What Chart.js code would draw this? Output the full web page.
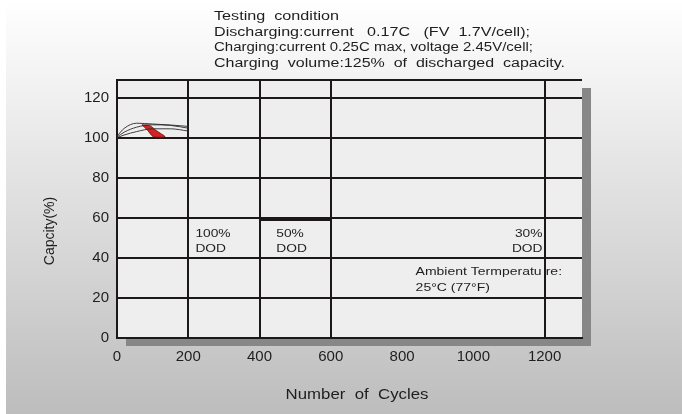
<!DOCTYPE html>
<html>
<head>
<meta charset="utf-8">
<script src="https://cdn.jsdelivr.net/npm/chart.js@4.4.1/dist/chart.umd.min.js"></script>
<style>
  html, body { margin: 0; padding: 0; background: #fff; }
</style>
</head>
<body>
<canvas id="cycleChart" width="682" height="414"></canvas>
<script>
// axis ticks
const xTicks = [0, 200, 400, 600, 800, 1000, 1200];
const xGridLines = [0, 200, 400, 600, 1200];
const yTicks = [0, 20, 40, 60, 80, 100, 120];
const xMax = 1305;
const yMax = 129;

// capacity curves over the first 200 cycles
const curveX = [0, 20, 55, 100, 150, 200];
const curveA = [100.9, 104.8, 107.4, 107.0, 106.5, 105.8];
const curveB = [100.5, 102.9, 105.4, 106.6, 106.3, 104.9];
const curveC = [100.2, 101.5, 103.2, 104.6, 104.6, 103.5];

// red band (closed outline)
const bandX = [70, 91, 112, 135, 102, 86, 70];
const bandY = [106.6, 106.3, 103.5, 100.6, 100.6, 103.8, 106.6];

// 50% DOD segment on the 60 line
const seg50X = [400, 600];
const seg50Y = [59.0, 59.0];

const headerLines = [
    'Testing  condition',
    'Discharging:current   0.17C   (FV  1.7V/cell);',
    'Charging:current 0.25C max, voltage 2.45V/cell;',
    'Charging  volume:125%  of  discharged  capacity.'
];

const GRID = '#1c1818';
const TEXT = '#1e1e1e';
const FONT = '"Liberation Sans", Arial, sans-serif';

function toPoints(xs, ys) {
    return xs.map((x, i) => ({ x: x, y: ys[i] }));
}

function wideText(ctx, text, x, y, size, align, stretch) {
    ctx.save();
    ctx.font = size + 'px ' + FONT;
    ctx.fillStyle = TEXT;
    ctx.textAlign = align;
    ctx.textBaseline = 'alphabetic';
    ctx.translate(x, y);
    ctx.scale(stretch, 1);
    ctx.fillText(text, 0, 0);
    ctx.restore();
}

function fitText(ctx, text, x, y, size, width) {
    ctx.save();
    ctx.font = size + 'px ' + FONT;
    const w = ctx.measureText(text).width;
    ctx.restore();
    wideText(ctx, text, x, y, size, 'left', width / w);
}

const backdrop = {
    id: 'backdrop',
    beforeDraw(chart) {
        const { ctx, chartArea: a, width, height } = chart;
        const sx = chart.scales.x, sy = chart.scales.y;
        ctx.save();
        const g = ctx.createLinearGradient(0, 0, 0, height);
        g.addColorStop(0, '#ffffff');
        g.addColorStop(1, '#bdbdbd');
        ctx.fillStyle = g;
        ctx.fillRect(0, 0, width, height);
        ctx.fillStyle = '#ffffff';
        ctx.fillRect(0, 0, 6, height);
        // drop shadow + plot panel
        ctx.fillStyle = '#878787';
        ctx.fillRect(a.left + 9, a.top + 8, a.right - a.left, a.bottom - a.top);
        ctx.fillStyle = '#eeeeee';
        ctx.fillRect(a.left, a.top, a.right - a.left, a.bottom - a.top);
        ctx.restore();

        // test conditions
        const widths = [125, 316, 319, 351];
        headerLines.forEach((t, i) => fitText(ctx, t, 214, 20 + i * 15.5, 12, widths[i]));

        // DOD labels
        const px = v => sx.getPixelForValue(v);
        const py = v => sy.getPixelForValue(v);
        wideText(ctx, '100%', px(220), py(50.6), 11, 'left', 1.25);
        wideText(ctx, 'DOD', px(220), py(43.1), 11, 'left', 1.25);
        wideText(ctx, '50%', px(447), py(50.6), 11, 'left', 1.25);
        wideText(ctx, 'DOD', px(447), py(43.1), 11, 'left', 1.25);
        wideText(ctx, '30%', px(1194), py(50.6), 11, 'right', 1.25);
        wideText(ctx, 'DOD', px(1194), py(43.1), 11, 'right', 1.25);
        fitText(ctx, 'Ambient Termperatu', px(838), py(31.4), 11.5, 126);
        wideText(ctx, 're:', px(1203), py(31.4), 11.5, 'left', 1.22);
        wideText(ctx, '25\u00B0C (77\u00B0F)', px(838), py(23.4), 11.5, 'left', 1.22);
    },
    afterDraw(chart) {
        const ctx = chart.ctx;
        ctx.save();
        ctx.font = '14px ' + FONT;
        ctx.fillStyle = TEXT;
        ctx.textAlign = 'center';
        ctx.textBaseline = 'middle';
        ctx.translate(50, 231);
        ctx.rotate(-Math.PI / 2);
        ctx.fillText('Capcity(%)', 0, 0);
        ctx.restore();
        wideText(ctx, 'Number  of  Cycles', 357, 399, 14, 'center', 1.2);
    }
};

const thin = { pointRadius: 0, borderWidth: 0.9, borderColor: '#2a2a2a', fill: false, tension: 0.4, cubicInterpolationMode: 'monotone' };

new Chart(document.getElementById('cycleChart'), {
    type: 'line',
    data: {
        datasets: [
            Object.assign({ label: 'curve A', data: toPoints(curveX, curveA) }, thin),
            Object.assign({ label: 'curve B', data: toPoints(curveX, curveB) }, thin),
            Object.assign({ label: 'curve C', data: toPoints(curveX, curveC) }, thin),
            {
                label: 'band', data: toPoints(bandX, bandY),
                pointRadius: 0, borderWidth: 0.8, borderColor: '#5a1010',
                backgroundColor: '#d42222', fill: 'shape', tension: 0.2
            },
            {
                label: '50% DOD', data: toPoints(seg50X, seg50Y),
                pointRadius: 0, borderWidth: 2, borderColor: GRID, fill: false
            }
        ]
    },
    options: {
        responsive: false,
        animation: false,
        layout: { padding: { top: 80, right: 100, left: 0, bottom: 0 } },
        plugins: { legend: { display: false }, tooltip: { enabled: false } },
        scales: {
            x: {
                type: 'linear', min: 0, max: xMax,
                afterBuildTicks: s => { s.ticks = xTicks.map(v => ({ value: v })); },
                afterFit: s => { s.height = 76; },
                grid: {
                    color: c => (c.tick && xGridLines.includes(c.tick.value)) ? GRID : 'rgba(0,0,0,0)',
                    lineWidth: 2, drawTicks: false
                },
                border: { display: true, color: GRID, width: 2 },
                ticks: {
                    font: { family: FONT, size: 15 }, color: TEXT, padding: 10,
                    maxRotation: 0, autoSkip: false,
                    callback: v => String(v)
                }
            },
            y: {
                type: 'linear', min: 0, max: yMax,
                afterBuildTicks: s => { s.ticks = yTicks.concat([yMax]).map(v => ({ value: v })); },
                afterFit: s => { s.width = 117; },
                grid: { color: GRID, lineWidth: 2, drawTicks: false },
                border: { display: true, color: GRID, width: 2 },
                ticks: {
                    font: { family: FONT, size: 15 }, color: TEXT, padding: 8,
                    callback: v => yTicks.includes(v) ? String(v) : ''
                }
            }
        }
    },
    plugins: [backdrop]
});
</script>
</body>
</html>
